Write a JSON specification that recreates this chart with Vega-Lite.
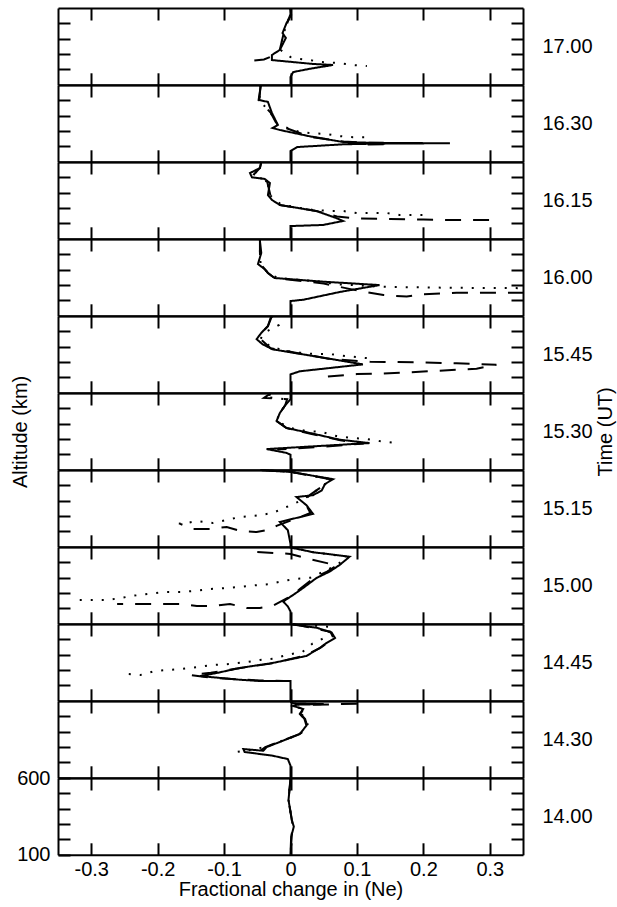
{
"$schema":"https://vega.github.io/schema/vega-lite/v6.json",
"padding":{"left":10,"top":4,"right":2,"bottom":5},
"bounds":"flush",
"spacing":0,
"datasets":{"d":[
{"p":"17.00","s":"solid","i":0,"v":0,"a":600},{"p":"17.00","s":"solid","i":1,"v":0,"a":587},{"p":"17.00","s":"solid","i":2,"v":0.001,"a":554},{"p":"17.00","s":"solid","i":3,"v":-0.006,"a":502},{"p":"17.00","s":"solid","i":4,"v":-0.012,"a":437},{"p":"17.00","s":"solid","i":5,"v":-0.007,"a":405},{"p":"17.00","s":"solid","i":6,"v":-0.016,"a":327},{"p":"17.00","s":"solid","i":7,"v":-0.028,"a":294},{"p":"17.00","s":"solid","i":8,"v":-0.028,"a":261},{"p":"17.00","s":"solid","i":9,"v":0.033,"a":236},{"p":"17.00","s":"solid","i":10,"v":0.064,"a":229},{"p":"17.00","s":"solid","i":11,"v":0.03,"a":205},{"p":"17.00","s":"solid","i":12,"v":0.004,"a":183},{"p":"17.00","s":"solid","i":13,"v":0,"a":151},{"p":"17.00","s":"solid","i":14,"v":0,"a":100},
{"p":"17.00","s":"dotted","i":0,"v":0,"a":600},{"p":"17.00","s":"dotted","i":1,"v":0,"a":560},{"p":"17.00","s":"dotted","i":2,"v":-0.01,"a":440},{"p":"17.00","s":"dotted","i":3,"v":-0.016,"a":330},{"p":"17.00","s":"dotted","i":4,"v":0,"a":281},{"p":"17.00","s":"dotted","i":5,"v":0.014,"a":268},{"p":"17.00","s":"dotted","i":6,"v":0.029,"a":261},{"p":"17.00","s":"dotted","i":7,"v":0.047,"a":248},{"p":"17.00","s":"dotted","i":8,"v":0.07,"a":242},{"p":"17.00","s":"dotted","i":9,"v":0.094,"a":229},{"p":"17.00","s":"dotted","i":10,"v":0.115,"a":222},
{"p":"17.00","s":"dashed","i":0,"v":0,"a":600},{"p":"17.00","s":"dashed","i":1,"v":0,"a":560},{"p":"17.00","s":"dashed","i":2,"v":-0.01,"a":440},{"p":"17.00","s":"dashed","i":3,"v":-0.016,"a":330},{"p":"17.00","s":"dashed","i":4,"v":-0.025,"a":290},{"p":"17.00","s":"dashed","i":5,"v":-0.04,"a":265},{"p":"17.00","s":"dashed","i":6,"v":-0.058,"a":256},
{"p":"16.30","s":"solid","i":0,"v":-0.045,"a":600},{"p":"16.30","s":"solid","i":1,"v":-0.045,"a":587},{"p":"16.30","s":"solid","i":2,"v":-0.048,"a":503},{"p":"16.30","s":"solid","i":3,"v":-0.034,"a":490},{"p":"16.30","s":"solid","i":4,"v":-0.028,"a":418},{"p":"16.30","s":"solid","i":5,"v":-0.019,"a":340},{"p":"16.30","s":"solid","i":6,"v":-0.027,"a":320},{"p":"16.30","s":"solid","i":7,"v":-0.016,"a":307},{"p":"16.30","s":"solid","i":8,"v":0.03,"a":265},{"p":"16.30","s":"solid","i":9,"v":0.079,"a":229},{"p":"16.30","s":"solid","i":10,"v":0.12,"a":224},{"p":"16.30","s":"solid","i":11,"v":0.17,"a":222},{"p":"16.30","s":"solid","i":12,"v":0.24,"a":221},{"p":"16.30","s":"solid","i":13,"v":0.13,"a":218},{"p":"16.30","s":"solid","i":14,"v":0.08,"a":214},{"p":"16.30","s":"solid","i":15,"v":0.01,"a":196},{"p":"16.30","s":"solid","i":16,"v":0,"a":170},{"p":"16.30","s":"solid","i":17,"v":0,"a":100},
{"p":"16.30","s":"dotted","i":0,"v":-0.045,"a":600},{"p":"16.30","s":"dotted","i":1,"v":-0.047,"a":500},{"p":"16.30","s":"dotted","i":2,"v":-0.03,"a":420},{"p":"16.30","s":"dotted","i":3,"v":-0.02,"a":345},{"p":"16.30","s":"dotted","i":4,"v":-0.012,"a":332},{"p":"16.30","s":"dotted","i":5,"v":0.014,"a":293},{"p":"16.30","s":"dotted","i":6,"v":0.034,"a":286},{"p":"16.30","s":"dotted","i":7,"v":0.055,"a":280},{"p":"16.30","s":"dotted","i":8,"v":0.074,"a":267},{"p":"16.30","s":"dotted","i":9,"v":0.094,"a":260},{"p":"16.30","s":"dotted","i":10,"v":0.12,"a":260},
{"p":"16.30","s":"dashed","i":0,"v":-0.045,"a":600},{"p":"16.30","s":"dashed","i":1,"v":-0.047,"a":500},{"p":"16.30","s":"dashed","i":2,"v":-0.03,"a":420},{"p":"16.30","s":"dashed","i":3,"v":-0.02,"a":340},{"p":"16.30","s":"dashed","i":4,"v":0.03,"a":262},{"p":"16.30","s":"dashed","i":5,"v":0.08,"a":232},{"p":"16.30","s":"dashed","i":6,"v":0.11,"a":224},{"p":"16.30","s":"dashed","i":7,"v":0.15,"a":222},{"p":"16.30","s":"dashed","i":8,"v":0.14,"a":215},{"p":"16.30","s":"dashed","i":9,"v":0.1,"a":212},
{"p":"16.15","s":"solid","i":0,"v":-0.044,"a":600},{"p":"16.15","s":"solid","i":1,"v":-0.046,"a":561},{"p":"16.15","s":"solid","i":2,"v":-0.061,"a":528},{"p":"16.15","s":"solid","i":3,"v":-0.058,"a":500},{"p":"16.15","s":"solid","i":4,"v":-0.039,"a":490},{"p":"16.15","s":"solid","i":5,"v":-0.031,"a":463},{"p":"16.15","s":"solid","i":6,"v":-0.034,"a":385},{"p":"16.15","s":"solid","i":7,"v":-0.028,"a":353},{"p":"16.15","s":"solid","i":8,"v":-0.016,"a":320},{"p":"16.15","s":"solid","i":9,"v":0.039,"a":281},{"p":"16.15","s":"solid","i":10,"v":0.069,"a":235},{"p":"16.15","s":"solid","i":11,"v":0.079,"a":216},{"p":"16.15","s":"solid","i":12,"v":0.049,"a":190},{"p":"16.15","s":"solid","i":13,"v":0,"a":183},{"p":"16.15","s":"solid","i":14,"v":0,"a":100},
{"p":"16.15","s":"dotted","i":0,"v":-0.044,"a":600},{"p":"16.15","s":"dotted","i":1,"v":-0.046,"a":561},{"p":"16.15","s":"dotted","i":2,"v":-0.055,"a":520},{"p":"16.15","s":"dotted","i":3,"v":-0.035,"a":470},{"p":"16.15","s":"dotted","i":4,"v":-0.03,"a":380},{"p":"16.15","s":"dotted","i":5,"v":-0.016,"a":330},{"p":"16.15","s":"dotted","i":6,"v":-0.009,"a":320},{"p":"16.15","s":"dotted","i":7,"v":0.014,"a":301},{"p":"16.15","s":"dotted","i":8,"v":0.034,"a":288},{"p":"16.15","s":"dotted","i":9,"v":0.059,"a":281},{"p":"16.15","s":"dotted","i":10,"v":0.079,"a":281},{"p":"16.15","s":"dotted","i":11,"v":0.1,"a":268},{"p":"16.15","s":"dotted","i":12,"v":0.124,"a":268},{"p":"16.15","s":"dotted","i":13,"v":0.145,"a":268},{"p":"16.15","s":"dotted","i":14,"v":0.164,"a":255},{"p":"16.15","s":"dotted","i":15,"v":0.184,"a":255},{"p":"16.15","s":"dotted","i":16,"v":0.205,"a":255},
{"p":"16.15","s":"dashed","i":0,"v":-0.044,"a":600},{"p":"16.15","s":"dashed","i":1,"v":-0.046,"a":561},{"p":"16.15","s":"dashed","i":2,"v":-0.055,"a":520},{"p":"16.15","s":"dashed","i":3,"v":-0.035,"a":470},{"p":"16.15","s":"dashed","i":4,"v":-0.03,"a":380},{"p":"16.15","s":"dashed","i":5,"v":-0.016,"a":320},{"p":"16.15","s":"dashed","i":6,"v":0.04,"a":280},{"p":"16.15","s":"dashed","i":7,"v":0.07,"a":245},{"p":"16.15","s":"dashed","i":8,"v":0.1,"a":232},{"p":"16.15","s":"dashed","i":9,"v":0.15,"a":229},{"p":"16.15","s":"dashed","i":10,"v":0.2,"a":225},{"p":"16.15","s":"dashed","i":11,"v":0.25,"a":222},{"p":"16.15","s":"dashed","i":12,"v":0.3,"a":222},
{"p":"16.00","s":"solid","i":0,"v":-0.046,"a":600},{"p":"16.00","s":"solid","i":1,"v":-0.046,"a":587},{"p":"16.00","s":"solid","i":2,"v":-0.044,"a":509},{"p":"16.00","s":"solid","i":3,"v":-0.049,"a":437},{"p":"16.00","s":"solid","i":4,"v":-0.039,"a":404},{"p":"16.00","s":"solid","i":5,"v":-0.034,"a":379},{"p":"16.00","s":"solid","i":6,"v":-0.024,"a":346},{"p":"16.00","s":"solid","i":7,"v":0.05,"a":322},{"p":"16.00","s":"solid","i":8,"v":0.134,"a":300},{"p":"16.00","s":"solid","i":9,"v":0.074,"a":255},{"p":"16.00","s":"solid","i":10,"v":0.02,"a":205},{"p":"16.00","s":"solid","i":11,"v":0,"a":196},{"p":"16.00","s":"solid","i":12,"v":0,"a":100},
{"p":"16.00","s":"dotted","i":0,"v":-0.046,"a":600},{"p":"16.00","s":"dotted","i":1,"v":-0.046,"a":509},{"p":"16.00","s":"dotted","i":2,"v":-0.045,"a":437},{"p":"16.00","s":"dotted","i":3,"v":-0.034,"a":379},{"p":"16.00","s":"dotted","i":4,"v":-0.02,"a":348},{"p":"16.00","s":"dotted","i":5,"v":0.015,"a":333},{"p":"16.00","s":"dotted","i":6,"v":0.034,"a":327},{"p":"16.00","s":"dotted","i":7,"v":0.054,"a":316},{"p":"16.00","s":"dotted","i":8,"v":0.074,"a":304},{"p":"16.00","s":"dotted","i":9,"v":0.094,"a":300},{"p":"16.00","s":"dotted","i":10,"v":0.114,"a":294},{"p":"16.00","s":"dotted","i":11,"v":0.15,"a":288},{"p":"16.00","s":"dotted","i":12,"v":0.2,"a":285},{"p":"16.00","s":"dotted","i":13,"v":0.25,"a":282},{"p":"16.00","s":"dotted","i":14,"v":0.3,"a":281},{"p":"16.00","s":"dotted","i":15,"v":0.35,"a":280},
{"p":"16.00","s":"dashed","i":0,"v":-0.046,"a":600},{"p":"16.00","s":"dashed","i":1,"v":-0.046,"a":509},{"p":"16.00","s":"dashed","i":2,"v":-0.045,"a":437},{"p":"16.00","s":"dashed","i":3,"v":-0.034,"a":379},{"p":"16.00","s":"dashed","i":4,"v":-0.024,"a":346},{"p":"16.00","s":"dashed","i":5,"v":0.05,"a":310},{"p":"16.00","s":"dashed","i":6,"v":0.1,"a":265},{"p":"16.00","s":"dashed","i":7,"v":0.14,"a":235},{"p":"16.00","s":"dashed","i":8,"v":0.175,"a":225},{"p":"16.00","s":"dashed","i":9,"v":0.2,"a":240},{"p":"16.00","s":"dashed","i":10,"v":0.25,"a":250},{"p":"16.00","s":"dashed","i":11,"v":0.3,"a":250},{"p":"16.00","s":"dashed","i":12,"v":0.35,"a":250},
{"p":"15.45","s":"solid","i":0,"v":-0.029,"a":600},{"p":"15.45","s":"solid","i":1,"v":-0.029,"a":588},{"p":"15.45","s":"solid","i":2,"v":-0.034,"a":534},{"p":"15.45","s":"solid","i":3,"v":-0.044,"a":490},{"p":"15.45","s":"solid","i":4,"v":-0.051,"a":449},{"p":"15.45","s":"solid","i":5,"v":-0.042,"a":416},{"p":"15.45","s":"solid","i":6,"v":-0.027,"a":383},{"p":"15.45","s":"solid","i":7,"v":0.064,"a":318},{"p":"15.45","s":"solid","i":8,"v":0.109,"a":285},{"p":"15.45","s":"solid","i":9,"v":0.014,"a":240},{"p":"15.45","s":"solid","i":10,"v":0,"a":220},{"p":"15.45","s":"solid","i":11,"v":0,"a":100},
{"p":"15.45","s":"dotted","i":0,"v":-0.029,"a":600},{"p":"15.45","s":"dotted","i":1,"v":-0.018,"a":540},{"p":"15.45","s":"dotted","i":2,"v":-0.04,"a":490},{"p":"15.45","s":"dotted","i":3,"v":-0.045,"a":450},{"p":"15.45","s":"dotted","i":4,"v":-0.03,"a":400},{"p":"15.45","s":"dotted","i":5,"v":-0.006,"a":372},{"p":"15.45","s":"dotted","i":6,"v":0.014,"a":361},{"p":"15.45","s":"dotted","i":7,"v":0.037,"a":352},{"p":"15.45","s":"dotted","i":8,"v":0.059,"a":352},{"p":"15.45","s":"dotted","i":9,"v":0.084,"a":339},{"p":"15.45","s":"dotted","i":10,"v":0.109,"a":328},{"p":"15.45","s":"dotted","i":11,"v":0.127,"a":322},
{"p":"15.45","s":"dashed","i":0,"v":-0.029,"a":600},{"p":"15.45","s":"dashed","i":1,"v":-0.034,"a":534},{"p":"15.45","s":"dashed","i":2,"v":-0.044,"a":490},{"p":"15.45","s":"dashed","i":3,"v":-0.045,"a":450},{"p":"15.45","s":"dashed","i":4,"v":-0.03,"a":390},{"p":"15.45","s":"dashed","i":5,"v":0.06,"a":320},{"p":"15.45","s":"dashed","i":6,"v":0.12,"a":302},{"p":"15.45","s":"dashed","i":7,"v":0.2,"a":298},{"p":"15.45","s":"dashed","i":8,"v":0.25,"a":292},{"p":"15.45","s":"dashed","i":9,"v":0.31,"a":283},{"p":"15.45","s":"dashed","i":10,"v":0.28,"a":257},{"p":"15.45","s":"dashed","i":11,"v":0.2,"a":238},{"p":"15.45","s":"dashed","i":12,"v":0.14,"a":226},{"p":"15.45","s":"dashed","i":13,"v":0.1,"a":222},{"p":"15.45","s":"dashed","i":14,"v":0.05,"a":203},
{"p":"15.30","s":"solid","i":0,"v":0,"a":600},{"p":"15.30","s":"solid","i":1,"v":0,"a":560},{"p":"15.30","s":"solid","i":2,"v":-0.008,"a":520},{"p":"15.30","s":"solid","i":3,"v":-0.016,"a":470},{"p":"15.30","s":"solid","i":4,"v":-0.021,"a":418},{"p":"15.30","s":"solid","i":5,"v":-0.006,"a":372},{"p":"15.30","s":"solid","i":6,"v":0.029,"a":340},{"p":"15.30","s":"solid","i":7,"v":0.074,"a":296},{"p":"15.30","s":"solid","i":8,"v":0.119,"a":274},{"p":"15.30","s":"solid","i":9,"v":-0.036,"a":235},{"p":"15.30","s":"solid","i":10,"v":-0.006,"a":210},{"p":"15.30","s":"solid","i":11,"v":0,"a":198},{"p":"15.30","s":"solid","i":12,"v":0,"a":100},
{"p":"15.30","s":"dotted","i":0,"v":-0.03,"a":592},{"p":"15.30","s":"dotted","i":1,"v":-0.038,"a":575},{"p":"15.30","s":"dotted","i":2,"v":-0.01,"a":560},{"p":"15.30","s":"dotted","i":3,"v":-0.008,"a":520},{"p":"15.30","s":"dotted","i":4,"v":-0.016,"a":470},{"p":"15.30","s":"dotted","i":5,"v":-0.021,"a":418},{"p":"15.30","s":"dotted","i":6,"v":0,"a":372},{"p":"15.30","s":"dotted","i":7,"v":0.024,"a":353},{"p":"15.30","s":"dotted","i":8,"v":0.047,"a":346},{"p":"15.30","s":"dotted","i":9,"v":0.069,"a":320},{"p":"15.30","s":"dotted","i":10,"v":0.092,"a":307},{"p":"15.30","s":"dotted","i":11,"v":0.114,"a":301},{"p":"15.30","s":"dotted","i":12,"v":0.134,"a":287},{"p":"15.30","s":"dotted","i":13,"v":0.159,"a":274},
{"p":"15.30","s":"dashed","i":0,"v":-0.03,"a":598},{"p":"15.30","s":"dashed","i":1,"v":-0.04,"a":568},{"p":"15.30","s":"dashed","i":2,"v":-0.005,"a":560},{"p":"15.30","s":"dashed","i":3,"v":-0.008,"a":520},{"p":"15.30","s":"dashed","i":4,"v":-0.016,"a":470},{"p":"15.30","s":"dashed","i":5,"v":-0.021,"a":418},{"p":"15.30","s":"dashed","i":6,"v":-0.006,"a":372},{"p":"15.30","s":"dashed","i":7,"v":0.03,"a":335},{"p":"15.30","s":"dashed","i":8,"v":0.075,"a":292},{"p":"15.30","s":"dashed","i":9,"v":0.11,"a":272},{"p":"15.30","s":"dashed","i":10,"v":0.05,"a":250},{"p":"15.30","s":"dashed","i":11,"v":-0.02,"a":232},
{"p":"15.15","s":"solid","i":0,"v":-0.045,"a":600},{"p":"15.15","s":"solid","i":1,"v":-0.02,"a":592},{"p":"15.15","s":"solid","i":2,"v":0,"a":588},{"p":"15.15","s":"solid","i":3,"v":0.064,"a":540},{"p":"15.15","s":"solid","i":4,"v":0.052,"a":509},{"p":"15.15","s":"solid","i":5,"v":0.047,"a":467},{"p":"15.15","s":"solid","i":6,"v":0.034,"a":436},{"p":"15.15","s":"solid","i":7,"v":0.009,"a":424},{"p":"15.15","s":"solid","i":8,"v":0.024,"a":371},{"p":"15.15","s":"solid","i":9,"v":0.034,"a":314},{"p":"15.15","s":"solid","i":10,"v":-0.016,"a":262},{"p":"15.15","s":"solid","i":11,"v":-0.004,"a":208},{"p":"15.15","s":"solid","i":12,"v":0,"a":119},{"p":"15.15","s":"solid","i":13,"v":0,"a":100},
{"p":"15.15","s":"dotted","i":0,"v":-0.045,"a":600},{"p":"15.15","s":"dotted","i":1,"v":0,"a":588},{"p":"15.15","s":"dotted","i":2,"v":0.06,"a":540},{"p":"15.15","s":"dotted","i":3,"v":0.05,"a":500},{"p":"15.15","s":"dotted","i":4,"v":0.03,"a":440},{"p":"15.15","s":"dotted","i":5,"v":0.015,"a":400},{"p":"15.15","s":"dotted","i":6,"v":0,"a":370},{"p":"15.15","s":"dotted","i":7,"v":-0.006,"a":359},{"p":"15.15","s":"dotted","i":8,"v":-0.027,"a":320},{"p":"15.15","s":"dotted","i":9,"v":-0.051,"a":303},{"p":"15.15","s":"dotted","i":10,"v":-0.076,"a":294},{"p":"15.15","s":"dotted","i":11,"v":-0.096,"a":275},{"p":"15.15","s":"dotted","i":12,"v":-0.117,"a":255},{"p":"15.15","s":"dotted","i":13,"v":-0.141,"a":268},{"p":"15.15","s":"dotted","i":14,"v":-0.162,"a":249},{"p":"15.15","s":"dotted","i":15,"v":-0.181,"a":255},
{"p":"15.15","s":"dashed","i":0,"v":-0.045,"a":600},{"p":"15.15","s":"dashed","i":1,"v":0,"a":588},{"p":"15.15","s":"dashed","i":2,"v":0.06,"a":540},{"p":"15.15","s":"dashed","i":3,"v":0.05,"a":500},{"p":"15.15","s":"dashed","i":4,"v":0.03,"a":440},{"p":"15.15","s":"dashed","i":5,"v":0.02,"a":400},{"p":"15.15","s":"dashed","i":6,"v":0.03,"a":320},{"p":"15.15","s":"dashed","i":7,"v":-0.021,"a":236},{"p":"15.15","s":"dashed","i":8,"v":-0.027,"a":216},{"p":"15.15","s":"dashed","i":9,"v":-0.051,"a":196},{"p":"15.15","s":"dashed","i":10,"v":-0.076,"a":203},{"p":"15.15","s":"dashed","i":11,"v":-0.096,"a":229},{"p":"15.15","s":"dashed","i":12,"v":-0.121,"a":216},{"p":"15.15","s":"dashed","i":13,"v":-0.147,"a":216},{"p":"15.15","s":"dashed","i":14,"v":-0.166,"a":249},
{"p":"15.00","s":"solid","i":0,"v":0,"a":600},{"p":"15.00","s":"solid","i":1,"v":0,"a":597},{"p":"15.00","s":"solid","i":2,"v":0.034,"a":566},{"p":"15.00","s":"solid","i":3,"v":0.089,"a":537},{"p":"15.00","s":"solid","i":4,"v":0.074,"a":483},{"p":"15.00","s":"solid","i":5,"v":0.059,"a":440},{"p":"15.00","s":"solid","i":6,"v":0.039,"a":398},{"p":"15.00","s":"solid","i":7,"v":0.019,"a":333},{"p":"15.00","s":"solid","i":8,"v":0.004,"a":288},{"p":"15.00","s":"solid","i":9,"v":-0.011,"a":245},{"p":"15.00","s":"solid","i":10,"v":-0.004,"a":213},{"p":"15.00","s":"solid","i":11,"v":0,"a":180},{"p":"15.00","s":"solid","i":12,"v":0,"a":100},
{"p":"15.00","s":"dotted","i":0,"v":0,"a":600},{"p":"15.00","s":"dotted","i":1,"v":0.034,"a":566},{"p":"15.00","s":"dotted","i":2,"v":0.085,"a":537},{"p":"15.00","s":"dotted","i":3,"v":0.07,"a":483},{"p":"15.00","s":"dotted","i":4,"v":0.05,"a":440},{"p":"15.00","s":"dotted","i":5,"v":0.03,"a":400},{"p":"15.00","s":"dotted","i":6,"v":0.009,"a":392},{"p":"15.00","s":"dotted","i":7,"v":-0.006,"a":383},{"p":"15.00","s":"dotted","i":8,"v":-0.031,"a":359},{"p":"15.00","s":"dotted","i":9,"v":-0.057,"a":349},{"p":"15.00","s":"dotted","i":10,"v":-0.076,"a":340},{"p":"15.00","s":"dotted","i":11,"v":-0.096,"a":333},{"p":"15.00","s":"dotted","i":12,"v":-0.121,"a":327},{"p":"15.00","s":"dotted","i":13,"v":-0.141,"a":315},{"p":"15.00","s":"dotted","i":14,"v":-0.166,"a":307},{"p":"15.00","s":"dotted","i":15,"v":-0.191,"a":307},{"p":"15.00","s":"dotted","i":16,"v":-0.215,"a":294},{"p":"15.00","s":"dotted","i":17,"v":-0.236,"a":283},{"p":"15.00","s":"dotted","i":18,"v":-0.256,"a":268},{"p":"15.00","s":"dotted","i":19,"v":-0.276,"a":255},{"p":"15.00","s":"dotted","i":20,"v":-0.297,"a":255},{"p":"15.00","s":"dotted","i":21,"v":-0.322,"a":255},
{"p":"15.00","s":"dashed","i":0,"v":-0.05,"a":568},{"p":"15.00","s":"dashed","i":1,"v":-0.02,"a":560},{"p":"15.00","s":"dashed","i":2,"v":0,"a":555},{"p":"15.00","s":"dashed","i":3,"v":0.03,"a":520},{"p":"15.00","s":"dashed","i":4,"v":0.07,"a":480},{"p":"15.00","s":"dashed","i":5,"v":0.055,"a":440},{"p":"15.00","s":"dashed","i":6,"v":0.035,"a":398},{"p":"15.00","s":"dashed","i":7,"v":0.015,"a":330},{"p":"15.00","s":"dashed","i":8,"v":0.004,"a":288},{"p":"15.00","s":"dashed","i":9,"v":-0.027,"a":216},{"p":"15.00","s":"dashed","i":10,"v":-0.046,"a":203},{"p":"15.00","s":"dashed","i":11,"v":-0.066,"a":203},{"p":"15.00","s":"dashed","i":12,"v":-0.091,"a":229},{"p":"15.00","s":"dashed","i":13,"v":-0.117,"a":216},{"p":"15.00","s":"dashed","i":14,"v":-0.141,"a":216},{"p":"15.00","s":"dashed","i":15,"v":-0.162,"a":229},{"p":"15.00","s":"dashed","i":16,"v":-0.186,"a":229},{"p":"15.00","s":"dashed","i":17,"v":-0.212,"a":229},{"p":"15.00","s":"dashed","i":18,"v":-0.236,"a":229},{"p":"15.00","s":"dashed","i":19,"v":-0.261,"a":229},
{"p":"14.45","s":"solid","i":0,"v":0.004,"a":600},{"p":"14.45","s":"solid","i":1,"v":0.004,"a":596},{"p":"14.45","s":"solid","i":2,"v":0.04,"a":575},{"p":"14.45","s":"solid","i":3,"v":0.062,"a":544},{"p":"14.45","s":"solid","i":4,"v":0.067,"a":509},{"p":"14.45","s":"solid","i":5,"v":0.054,"a":476},{"p":"14.45","s":"solid","i":6,"v":0.044,"a":444},{"p":"14.45","s":"solid","i":7,"v":0.024,"a":392},{"p":"14.45","s":"solid","i":8,"v":-0.027,"a":346},{"p":"14.45","s":"solid","i":9,"v":-0.076,"a":314},{"p":"14.45","s":"solid","i":10,"v":-0.111,"a":281},{"p":"14.45","s":"solid","i":11,"v":-0.136,"a":261},{"p":"14.45","s":"solid","i":12,"v":-0.076,"a":237},{"p":"14.45","s":"solid","i":13,"v":-0.046,"a":229},{"p":"14.45","s":"solid","i":14,"v":0,"a":229},{"p":"14.45","s":"solid","i":15,"v":0,"a":118},{"p":"14.45","s":"solid","i":16,"v":0,"a":100},
{"p":"14.45","s":"dotted","i":0,"v":0.004,"a":600},{"p":"14.45","s":"dotted","i":1,"v":0.063,"a":580},{"p":"14.45","s":"dotted","i":2,"v":0.054,"a":516},{"p":"14.45","s":"dotted","i":3,"v":0.033,"a":472},{"p":"14.45","s":"dotted","i":4,"v":0.018,"a":418},{"p":"14.45","s":"dotted","i":5,"v":-0.006,"a":398},{"p":"14.45","s":"dotted","i":6,"v":-0.027,"a":374},{"p":"14.45","s":"dotted","i":7,"v":-0.046,"a":366},{"p":"14.45","s":"dotted","i":8,"v":-0.066,"a":352},{"p":"14.45","s":"dotted","i":9,"v":-0.091,"a":340},{"p":"14.45","s":"dotted","i":10,"v":-0.117,"a":333},{"p":"14.45","s":"dotted","i":11,"v":-0.139,"a":320},{"p":"14.45","s":"dotted","i":12,"v":-0.162,"a":308},{"p":"14.45","s":"dotted","i":13,"v":-0.181,"a":302},{"p":"14.45","s":"dotted","i":14,"v":-0.204,"a":294},{"p":"14.45","s":"dotted","i":15,"v":-0.226,"a":268},{"p":"14.45","s":"dotted","i":16,"v":-0.244,"a":274},
{"p":"14.45","s":"dashed","i":0,"v":0.004,"a":600},{"p":"14.45","s":"dashed","i":1,"v":0.06,"a":550},{"p":"14.45","s":"dashed","i":2,"v":0.065,"a":505},{"p":"14.45","s":"dashed","i":3,"v":0.045,"a":445},{"p":"14.45","s":"dashed","i":4,"v":0.02,"a":392},{"p":"14.45","s":"dashed","i":5,"v":-0.03,"a":342},{"p":"14.45","s":"dashed","i":6,"v":-0.08,"a":310},{"p":"14.45","s":"dashed","i":7,"v":-0.12,"a":282},{"p":"14.45","s":"dashed","i":8,"v":-0.15,"a":268},{"p":"14.45","s":"dashed","i":9,"v":-0.12,"a":250},{"p":"14.45","s":"dashed","i":10,"v":-0.08,"a":240},{"p":"14.45","s":"dashed","i":11,"v":-0.046,"a":232},{"p":"14.45","s":"dashed","i":12,"v":-0.01,"a":229},
{"p":"14.30","s":"solid","i":0,"v":0,"a":600},{"p":"14.30","s":"solid","i":1,"v":0.004,"a":585},{"p":"14.30","s":"solid","i":2,"v":0.05,"a":580},{"p":"14.30","s":"solid","i":3,"v":0.01,"a":576},{"p":"14.30","s":"solid","i":4,"v":0.004,"a":568},{"p":"14.30","s":"solid","i":5,"v":0.019,"a":548},{"p":"14.30","s":"solid","i":6,"v":0.014,"a":516},{"p":"14.30","s":"solid","i":7,"v":0.021,"a":483},{"p":"14.30","s":"solid","i":8,"v":0.024,"a":440},{"p":"14.30","s":"solid","i":9,"v":0.014,"a":385},{"p":"14.30","s":"solid","i":10,"v":-0.011,"a":342},{"p":"14.30","s":"solid","i":11,"v":-0.036,"a":300},{"p":"14.30","s":"solid","i":12,"v":-0.041,"a":276},{"p":"14.30","s":"solid","i":13,"v":-0.071,"a":287},{"p":"14.30","s":"solid","i":14,"v":-0.069,"a":268},{"p":"14.30","s":"solid","i":15,"v":-0.027,"a":244},{"p":"14.30","s":"solid","i":16,"v":-0.004,"a":222},{"p":"14.30","s":"solid","i":17,"v":0,"a":179},{"p":"14.30","s":"solid","i":18,"v":0,"a":100},
{"p":"14.30","s":"dotted","i":0,"v":0,"a":600},{"p":"14.30","s":"dotted","i":1,"v":0.004,"a":568},{"p":"14.30","s":"dotted","i":2,"v":0.019,"a":548},{"p":"14.30","s":"dotted","i":3,"v":0.016,"a":516},{"p":"14.30","s":"dotted","i":4,"v":0.024,"a":483},{"p":"14.30","s":"dotted","i":5,"v":0.026,"a":440},{"p":"14.30","s":"dotted","i":6,"v":0.015,"a":385},{"p":"14.30","s":"dotted","i":7,"v":-0.01,"a":345},{"p":"14.30","s":"dotted","i":8,"v":-0.035,"a":305},{"p":"14.30","s":"dotted","i":9,"v":-0.055,"a":285},{"p":"14.30","s":"dotted","i":10,"v":-0.081,"a":268},
{"p":"14.30","s":"dashed","i":0,"v":0.1,"a":582},{"p":"14.30","s":"dashed","i":1,"v":0.077,"a":580},{"p":"14.30","s":"dashed","i":2,"v":0.03,"a":575},{"p":"14.30","s":"dashed","i":3,"v":0.02,"a":550},{"p":"14.30","s":"dashed","i":4,"v":0.015,"a":516},{"p":"14.30","s":"dashed","i":5,"v":0.022,"a":483},{"p":"14.30","s":"dashed","i":6,"v":0.025,"a":440},{"p":"14.30","s":"dashed","i":7,"v":0.014,"a":385},{"p":"14.30","s":"dashed","i":8,"v":-0.012,"a":342},{"p":"14.30","s":"dashed","i":9,"v":-0.038,"a":300},{"p":"14.30","s":"dashed","i":10,"v":-0.045,"a":278},
{"p":"14.00","s":"solid","i":0,"v":0,"a":600},{"p":"14.00","s":"solid","i":1,"v":0,"a":587},{"p":"14.00","s":"solid","i":2,"v":-0.003,"a":457},{"p":"14.00","s":"solid","i":3,"v":0.002,"a":327},{"p":"14.00","s":"solid","i":4,"v":0.005,"a":283},{"p":"14.00","s":"solid","i":5,"v":0.001,"a":218},{"p":"14.00","s":"solid","i":6,"v":0,"a":107},{"p":"14.00","s":"solid","i":7,"v":0,"a":100},
{"p":"14.00","s":"dotted","i":0,"v":0,"a":600},{"p":"14.00","s":"dotted","i":1,"v":-0.003,"a":457},{"p":"14.00","s":"dotted","i":2,"v":0.003,"a":300},{"p":"14.00","s":"dotted","i":3,"v":0,"a":100},
{"p":"14.00","s":"dashed","i":0,"v":0,"a":600},{"p":"14.00","s":"dashed","i":1,"v":-0.003,"a":457},{"p":"14.00","s":"dashed","i":2,"v":0.003,"a":300},{"p":"14.00","s":"dashed","i":3,"v":0,"a":100}
]},
"data":{"name":"d"},
"vconcat":[
{"width":465,"height":76.8,"transform":[{"filter":"datum.p === '17.00'"}],"resolve":{"axis":{"x":"independent","y":"independent"}},"layer":[
 {"transform":[{"filter":"datum.s === 'solid'"}],"mark":{"type":"line"},"encoding":{"x":{"field":"v","type":"quantitative","scale":{"domain":[-0.35,0.35],"nice":false,"zero":false},"axis":{"orient":"bottom","values":[-0.3,-0.2,-0.1,0,0.1,0.2,0.3],"labels":false,"title":null}},"y":{"field":"a","type":"quantitative","scale":{"domain":[100,600],"nice":false,"zero":false},"axis":{"orient":"left","values":[200,300,400,500],"labels":false,"title":null}},"order":{"field":"i"},"strokeDash":{"field":"s","type":"nominal","scale":{"domain":["solid","dotted","dashed"],"range":[[1,0],[2,9],[16,12]]},"legend":null}}},
 {"transform":[{"filter":"datum.s !== 'solid'"}],"mark":{"type":"line"},"encoding":{"x":{"field":"v","type":"quantitative","scale":{"domain":[-0.35,0.35],"nice":false,"zero":false},"axis":{"orient":"top","values":[-0.3,-0.2,-0.1,0,0.1,0.2,0.3],"labels":false,"title":null}},"y":{"field":"a","type":"quantitative","scale":{"domain":[100,600],"nice":false,"zero":false},"axis":{"orient":"right","values":[200,300,350,400,500],"tickOpacity":{"condition":{"test":"datum.value === 350","value":0},"value":1},"labelExpr":"datum.value === 350 ? '17.00' : ''","labelPadding":31,"title":null}},"order":{"field":"i"},"strokeDash":{"field":"s","type":"nominal","scale":{"domain":["solid","dotted","dashed"],"range":[[1,0],[2,9],[16,12]]},"legend":null}}}
]},
{"width":465,"height":76.8,"transform":[{"filter":"datum.p === '16.30'"}],"resolve":{"axis":{"x":"independent","y":"independent"}},"layer":[
 {"transform":[{"filter":"datum.s === 'solid'"}],"mark":{"type":"line"},"encoding":{"x":{"field":"v","type":"quantitative","scale":{"domain":[-0.35,0.35],"nice":false,"zero":false},"axis":{"orient":"bottom","values":[-0.3,-0.2,-0.1,0,0.1,0.2,0.3],"labels":false,"title":null}},"y":{"field":"a","type":"quantitative","scale":{"domain":[100,600],"nice":false,"zero":false},"axis":{"orient":"left","values":[200,300,400,500],"labels":false,"title":null}},"order":{"field":"i"},"strokeDash":{"field":"s","type":"nominal","scale":{"domain":["solid","dotted","dashed"],"range":[[1,0],[2,9],[16,12]]},"legend":null}}},
 {"transform":[{"filter":"datum.s !== 'solid'"}],"mark":{"type":"line"},"encoding":{"x":{"field":"v","type":"quantitative","scale":{"domain":[-0.35,0.35],"nice":false,"zero":false},"axis":{"orient":"top","values":[-0.3,-0.2,-0.1,0,0.1,0.2,0.3],"labels":false,"title":null}},"y":{"field":"a","type":"quantitative","scale":{"domain":[100,600],"nice":false,"zero":false},"axis":{"orient":"right","values":[200,300,350,400,500],"tickOpacity":{"condition":{"test":"datum.value === 350","value":0},"value":1},"labelExpr":"datum.value === 350 ? '16.30' : ''","labelPadding":31,"title":null}},"order":{"field":"i"},"strokeDash":{"field":"s","type":"nominal","scale":{"domain":["solid","dotted","dashed"],"range":[[1,0],[2,9],[16,12]]},"legend":null}}}
]},
{"width":465,"height":76.8,"transform":[{"filter":"datum.p === '16.15'"}],"resolve":{"axis":{"x":"independent","y":"independent"}},"layer":[
 {"transform":[{"filter":"datum.s === 'solid'"}],"mark":{"type":"line"},"encoding":{"x":{"field":"v","type":"quantitative","scale":{"domain":[-0.35,0.35],"nice":false,"zero":false},"axis":{"orient":"bottom","values":[-0.3,-0.2,-0.1,0,0.1,0.2,0.3],"labels":false,"title":null}},"y":{"field":"a","type":"quantitative","scale":{"domain":[100,600],"nice":false,"zero":false},"axis":{"orient":"left","values":[200,300,400,500],"labels":false,"title":null}},"order":{"field":"i"},"strokeDash":{"field":"s","type":"nominal","scale":{"domain":["solid","dotted","dashed"],"range":[[1,0],[2,9],[16,12]]},"legend":null}}},
 {"transform":[{"filter":"datum.s !== 'solid'"}],"mark":{"type":"line"},"encoding":{"x":{"field":"v","type":"quantitative","scale":{"domain":[-0.35,0.35],"nice":false,"zero":false},"axis":{"orient":"top","values":[-0.3,-0.2,-0.1,0,0.1,0.2,0.3],"labels":false,"title":null}},"y":{"field":"a","type":"quantitative","scale":{"domain":[100,600],"nice":false,"zero":false},"axis":{"orient":"right","values":[200,300,350,400,500],"tickOpacity":{"condition":{"test":"datum.value === 350","value":0},"value":1},"labelExpr":"datum.value === 350 ? '16.15' : ''","labelPadding":31,"title":null}},"order":{"field":"i"},"strokeDash":{"field":"s","type":"nominal","scale":{"domain":["solid","dotted","dashed"],"range":[[1,0],[2,9],[16,12]]},"legend":null}}}
]},
{"width":465,"height":76.8,"transform":[{"filter":"datum.p === '16.00'"}],"resolve":{"axis":{"x":"independent","y":"independent"}},"layer":[
 {"transform":[{"filter":"datum.s === 'solid'"}],"mark":{"type":"line"},"encoding":{"x":{"field":"v","type":"quantitative","scale":{"domain":[-0.35,0.35],"nice":false,"zero":false},"axis":{"orient":"bottom","values":[-0.3,-0.2,-0.1,0,0.1,0.2,0.3],"labels":false,"title":null}},"y":{"field":"a","type":"quantitative","scale":{"domain":[100,600],"nice":false,"zero":false},"axis":{"orient":"left","values":[200,300,400,500],"labels":false,"title":null}},"order":{"field":"i"},"strokeDash":{"field":"s","type":"nominal","scale":{"domain":["solid","dotted","dashed"],"range":[[1,0],[2,9],[16,12]]},"legend":null}}},
 {"transform":[{"filter":"datum.s !== 'solid'"}],"mark":{"type":"line"},"encoding":{"x":{"field":"v","type":"quantitative","scale":{"domain":[-0.35,0.35],"nice":false,"zero":false},"axis":{"orient":"top","values":[-0.3,-0.2,-0.1,0,0.1,0.2,0.3],"labels":false,"title":null}},"y":{"field":"a","type":"quantitative","scale":{"domain":[100,600],"nice":false,"zero":false},"axis":{"orient":"right","values":[200,300,350,400,500],"tickOpacity":{"condition":{"test":"datum.value === 350","value":0},"value":1},"labelExpr":"datum.value === 350 ? '16.00' : ''","labelPadding":31,"title":null}},"order":{"field":"i"},"strokeDash":{"field":"s","type":"nominal","scale":{"domain":["solid","dotted","dashed"],"range":[[1,0],[2,9],[16,12]]},"legend":null}}}
]},
{"width":465,"height":76.8,"transform":[{"filter":"datum.p === '15.45'"}],"resolve":{"axis":{"x":"independent","y":"independent"}},"layer":[
 {"transform":[{"filter":"datum.s === 'solid'"}],"mark":{"type":"line"},"encoding":{"x":{"field":"v","type":"quantitative","scale":{"domain":[-0.35,0.35],"nice":false,"zero":false},"axis":{"orient":"bottom","values":[-0.3,-0.2,-0.1,0,0.1,0.2,0.3],"labels":false,"title":null}},"y":{"field":"a","type":"quantitative","scale":{"domain":[100,600],"nice":false,"zero":false},"axis":{"orient":"left","values":[200,300,400,500],"labels":false,"title":null}},"order":{"field":"i"},"strokeDash":{"field":"s","type":"nominal","scale":{"domain":["solid","dotted","dashed"],"range":[[1,0],[2,9],[16,12]]},"legend":null}}},
 {"transform":[{"filter":"datum.s !== 'solid'"}],"mark":{"type":"line"},"encoding":{"x":{"field":"v","type":"quantitative","scale":{"domain":[-0.35,0.35],"nice":false,"zero":false},"axis":{"orient":"top","values":[-0.3,-0.2,-0.1,0,0.1,0.2,0.3],"labels":false,"title":null}},"y":{"field":"a","type":"quantitative","scale":{"domain":[100,600],"nice":false,"zero":false},"axis":{"orient":"right","values":[200,300,350,400,500],"tickOpacity":{"condition":{"test":"datum.value === 350","value":0},"value":1},"labelExpr":"datum.value === 350 ? '15.45' : ''","labelPadding":31,"title":null}},"order":{"field":"i"},"strokeDash":{"field":"s","type":"nominal","scale":{"domain":["solid","dotted","dashed"],"range":[[1,0],[2,9],[16,12]]},"legend":null}}}
]},
{"width":465,"height":76.8,"transform":[{"filter":"datum.p === '15.30'"}],"resolve":{"axis":{"x":"independent","y":"independent"}},"layer":[
 {"transform":[{"filter":"datum.s === 'solid'"}],"mark":{"type":"line"},"encoding":{"x":{"field":"v","type":"quantitative","scale":{"domain":[-0.35,0.35],"nice":false,"zero":false},"axis":{"orient":"bottom","values":[-0.3,-0.2,-0.1,0,0.1,0.2,0.3],"labels":false,"title":null}},"y":{"field":"a","type":"quantitative","scale":{"domain":[100,600],"nice":false,"zero":false},"axis":{"orient":"left","values":[200,300,400,500],"labels":false,"title":"Altitude (km)","titlePadding":27}},"order":{"field":"i"},"strokeDash":{"field":"s","type":"nominal","scale":{"domain":["solid","dotted","dashed"],"range":[[1,0],[2,9],[16,12]]},"legend":null}}},
 {"transform":[{"filter":"datum.s !== 'solid'"}],"mark":{"type":"line"},"encoding":{"x":{"field":"v","type":"quantitative","scale":{"domain":[-0.35,0.35],"nice":false,"zero":false},"axis":{"orient":"top","values":[-0.3,-0.2,-0.1,0,0.1,0.2,0.3],"labels":false,"title":null}},"y":{"field":"a","type":"quantitative","scale":{"domain":[100,600],"nice":false,"zero":false},"axis":{"orient":"right","values":[200,300,350,400,500],"tickOpacity":{"condition":{"test":"datum.value === 350","value":0},"value":1},"labelExpr":"datum.value === 350 ? '15.30' : ''","labelPadding":31,"title":"Time (UT)","titleAngle":270,"titlePadding":23}},"order":{"field":"i"},"strokeDash":{"field":"s","type":"nominal","scale":{"domain":["solid","dotted","dashed"],"range":[[1,0],[2,9],[16,12]]},"legend":null}}}
]},
{"width":465,"height":76.8,"transform":[{"filter":"datum.p === '15.15'"}],"resolve":{"axis":{"x":"independent","y":"independent"}},"layer":[
 {"transform":[{"filter":"datum.s === 'solid'"}],"mark":{"type":"line"},"encoding":{"x":{"field":"v","type":"quantitative","scale":{"domain":[-0.35,0.35],"nice":false,"zero":false},"axis":{"orient":"bottom","values":[-0.3,-0.2,-0.1,0,0.1,0.2,0.3],"labels":false,"title":null}},"y":{"field":"a","type":"quantitative","scale":{"domain":[100,600],"nice":false,"zero":false},"axis":{"orient":"left","values":[200,300,400,500],"labels":false,"title":null}},"order":{"field":"i"},"strokeDash":{"field":"s","type":"nominal","scale":{"domain":["solid","dotted","dashed"],"range":[[1,0],[2,9],[16,12]]},"legend":null}}},
 {"transform":[{"filter":"datum.s !== 'solid'"}],"mark":{"type":"line"},"encoding":{"x":{"field":"v","type":"quantitative","scale":{"domain":[-0.35,0.35],"nice":false,"zero":false},"axis":{"orient":"top","values":[-0.3,-0.2,-0.1,0,0.1,0.2,0.3],"labels":false,"title":null}},"y":{"field":"a","type":"quantitative","scale":{"domain":[100,600],"nice":false,"zero":false},"axis":{"orient":"right","values":[200,300,350,400,500],"tickOpacity":{"condition":{"test":"datum.value === 350","value":0},"value":1},"labelExpr":"datum.value === 350 ? '15.15' : ''","labelPadding":31,"title":null}},"order":{"field":"i"},"strokeDash":{"field":"s","type":"nominal","scale":{"domain":["solid","dotted","dashed"],"range":[[1,0],[2,9],[16,12]]},"legend":null}}}
]},
{"width":465,"height":76.8,"transform":[{"filter":"datum.p === '15.00'"}],"resolve":{"axis":{"x":"independent","y":"independent"}},"layer":[
 {"transform":[{"filter":"datum.s === 'solid'"}],"mark":{"type":"line"},"encoding":{"x":{"field":"v","type":"quantitative","scale":{"domain":[-0.35,0.35],"nice":false,"zero":false},"axis":{"orient":"bottom","values":[-0.3,-0.2,-0.1,0,0.1,0.2,0.3],"labels":false,"title":null}},"y":{"field":"a","type":"quantitative","scale":{"domain":[100,600],"nice":false,"zero":false},"axis":{"orient":"left","values":[200,300,400,500],"labels":false,"title":null}},"order":{"field":"i"},"strokeDash":{"field":"s","type":"nominal","scale":{"domain":["solid","dotted","dashed"],"range":[[1,0],[2,9],[16,12]]},"legend":null}}},
 {"transform":[{"filter":"datum.s !== 'solid'"}],"mark":{"type":"line"},"encoding":{"x":{"field":"v","type":"quantitative","scale":{"domain":[-0.35,0.35],"nice":false,"zero":false},"axis":{"orient":"top","values":[-0.3,-0.2,-0.1,0,0.1,0.2,0.3],"labels":false,"title":null}},"y":{"field":"a","type":"quantitative","scale":{"domain":[100,600],"nice":false,"zero":false},"axis":{"orient":"right","values":[200,300,350,400,500],"tickOpacity":{"condition":{"test":"datum.value === 350","value":0},"value":1},"labelExpr":"datum.value === 350 ? '15.00' : ''","labelPadding":31,"title":null}},"order":{"field":"i"},"strokeDash":{"field":"s","type":"nominal","scale":{"domain":["solid","dotted","dashed"],"range":[[1,0],[2,9],[16,12]]},"legend":null}}}
]},
{"width":465,"height":76.8,"transform":[{"filter":"datum.p === '14.45'"}],"resolve":{"axis":{"x":"independent","y":"independent"}},"layer":[
 {"transform":[{"filter":"datum.s === 'solid'"}],"mark":{"type":"line"},"encoding":{"x":{"field":"v","type":"quantitative","scale":{"domain":[-0.35,0.35],"nice":false,"zero":false},"axis":{"orient":"bottom","values":[-0.3,-0.2,-0.1,0,0.1,0.2,0.3],"labels":false,"title":null}},"y":{"field":"a","type":"quantitative","scale":{"domain":[100,600],"nice":false,"zero":false},"axis":{"orient":"left","values":[200,300,400,500],"labels":false,"title":null}},"order":{"field":"i"},"strokeDash":{"field":"s","type":"nominal","scale":{"domain":["solid","dotted","dashed"],"range":[[1,0],[2,9],[16,12]]},"legend":null}}},
 {"transform":[{"filter":"datum.s !== 'solid'"}],"mark":{"type":"line"},"encoding":{"x":{"field":"v","type":"quantitative","scale":{"domain":[-0.35,0.35],"nice":false,"zero":false},"axis":{"orient":"top","values":[-0.3,-0.2,-0.1,0,0.1,0.2,0.3],"labels":false,"title":null}},"y":{"field":"a","type":"quantitative","scale":{"domain":[100,600],"nice":false,"zero":false},"axis":{"orient":"right","values":[200,300,350,400,500],"tickOpacity":{"condition":{"test":"datum.value === 350","value":0},"value":1},"labelExpr":"datum.value === 350 ? '14.45' : ''","labelPadding":31,"title":null}},"order":{"field":"i"},"strokeDash":{"field":"s","type":"nominal","scale":{"domain":["solid","dotted","dashed"],"range":[[1,0],[2,9],[16,12]]},"legend":null}}}
]},
{"width":465,"height":76.8,"transform":[{"filter":"datum.p === '14.30'"}],"resolve":{"axis":{"x":"independent","y":"independent"}},"layer":[
 {"transform":[{"filter":"datum.s === 'solid'"}],"mark":{"type":"line"},"encoding":{"x":{"field":"v","type":"quantitative","scale":{"domain":[-0.35,0.35],"nice":false,"zero":false},"axis":{"orient":"bottom","values":[-0.3,-0.2,-0.1,0,0.1,0.2,0.3],"labels":false,"title":null}},"y":{"field":"a","type":"quantitative","scale":{"domain":[100,600],"nice":false,"zero":false},"axis":{"orient":"left","values":[200,300,400,500],"labels":false,"title":null}},"order":{"field":"i"},"strokeDash":{"field":"s","type":"nominal","scale":{"domain":["solid","dotted","dashed"],"range":[[1,0],[2,9],[16,12]]},"legend":null}}},
 {"transform":[{"filter":"datum.s !== 'solid'"}],"mark":{"type":"line"},"encoding":{"x":{"field":"v","type":"quantitative","scale":{"domain":[-0.35,0.35],"nice":false,"zero":false},"axis":{"orient":"top","values":[-0.3,-0.2,-0.1,0,0.1,0.2,0.3],"labels":false,"title":null}},"y":{"field":"a","type":"quantitative","scale":{"domain":[100,600],"nice":false,"zero":false},"axis":{"orient":"right","values":[200,300,350,400,500],"tickOpacity":{"condition":{"test":"datum.value === 350","value":0},"value":1},"labelExpr":"datum.value === 350 ? '14.30' : ''","labelPadding":31,"title":null}},"order":{"field":"i"},"strokeDash":{"field":"s","type":"nominal","scale":{"domain":["solid","dotted","dashed"],"range":[[1,0],[2,9],[16,12]]},"legend":null}}}
]},
{"width":465,"height":76.8,"transform":[{"filter":"datum.p === '14.00'"}],"resolve":{"axis":{"x":"independent","y":"independent"}},"layer":[
 {"transform":[{"filter":"datum.s === 'solid'"}],"mark":{"type":"line"},"encoding":{"x":{"field":"v","type":"quantitative","scale":{"domain":[-0.35,0.35],"nice":false,"zero":false},"axis":{"orient":"bottom","values":[-0.3,-0.2,-0.1,0,0.1,0.2,0.3],"labelExpr":"datum.value === 0 ? '0' : replace(format(datum.value, '.1f'), '\u2212', '-')","labelPadding":17,"title":"Fractional change in (Ne)","titlePadding":0}},"y":{"field":"a","type":"quantitative","scale":{"domain":[100,600],"nice":false,"zero":false},"axis":{"orient":"left","values":[100,200,300,400,500,600],"labelExpr":"datum.value === 100 || datum.value === 600 ? datum.label : ''","labelPadding":20,"title":null}},"order":{"field":"i"},"strokeDash":{"field":"s","type":"nominal","scale":{"domain":["solid","dotted","dashed"],"range":[[1,0],[2,9],[16,12]]},"legend":null}}},
 {"transform":[{"filter":"datum.s !== 'solid'"}],"mark":{"type":"line"},"encoding":{"x":{"field":"v","type":"quantitative","scale":{"domain":[-0.35,0.35],"nice":false,"zero":false},"axis":{"orient":"top","values":[-0.3,-0.2,-0.1,0,0.1,0.2,0.3],"labels":false,"title":null}},"y":{"field":"a","type":"quantitative","scale":{"domain":[100,600],"nice":false,"zero":false},"axis":{"orient":"right","values":[200,300,350,400,500],"tickOpacity":{"condition":{"test":"datum.value === 350","value":0},"value":1},"labelExpr":"datum.value === 350 ? '14.00' : ''","labelPadding":31,"title":null}},"order":{"field":"i"},"strokeDash":{"field":"s","type":"nominal","scale":{"domain":["solid","dotted","dashed"],"range":[[1,0],[2,9],[16,12]]},"legend":null}}}
]}
],
"config":{
 "font":"Liberation Sans",
 "view":{"stroke":null},
 "line":{"color":"black","strokeWidth":2},
 "axis":{"grid":false,"domainColor":"black","domainWidth":2,"tickColor":"black","tickWidth":2,"tickSize":-12,"labelFont":"Liberation Sans","labelFontSize":20,"labelColor":"black","labelBaseline":"middle","titleFont":"Liberation Sans","titleFontSize":20,"titleFontWeight":"normal","titleColor":"black"},
 "axisX":{"labelBaseline":"top"}
}
}
